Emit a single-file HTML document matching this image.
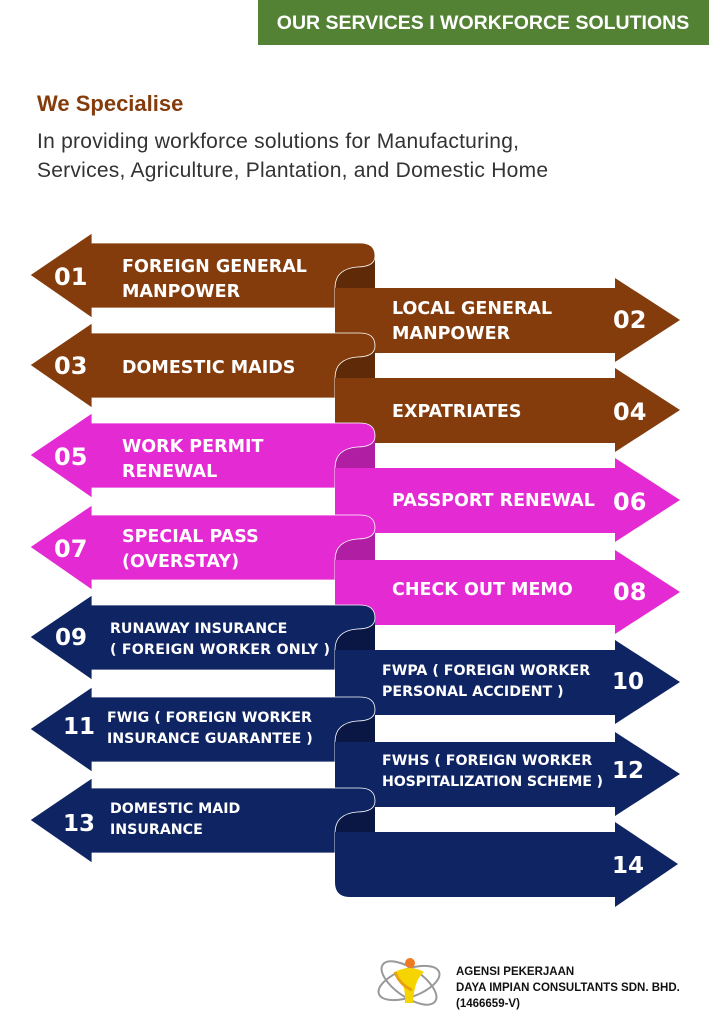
<!DOCTYPE html>
<html><head><meta charset="utf-8"><style>
html,body{margin:0;padding:0;background:#fff;width:709px;height:1024px;overflow:hidden}
svg{display:block}
.t{font-family:"DejaVu Sans","Liberation Sans",sans-serif;font-weight:bold;fill:#fff}
</style></head><body>
<svg width="709" height="1024" viewBox="0 0 709 1024" xmlns="http://www.w3.org/2000/svg">
<rect x="258" y="0" width="451" height="45" fill="#548235"/>
<text x="483" y="29" text-anchor="middle" font-family="Liberation Sans,sans-serif" font-weight="bold" font-size="19.5" fill="#fff">OUR SERVICES  I  WORKFORCE SOLUTIONS</text>
<text x="37" y="111" font-family="Liberation Sans,sans-serif" font-weight="bold" font-size="22" fill="#843c0c">We Specialise</text>
<text x="37" y="148" font-family="Liberation Sans,sans-serif" font-size="21" textLength="482" fill="#333">In providing workforce solutions for Manufacturing,</text>
<text x="37" y="177" font-family="Liberation Sans,sans-serif" font-size="21" textLength="511" fill="#333">Services, Agriculture, Plantation, and Domestic Home</text>

<defs>
<g id="L"><path d="M30,32 L92,-10 L92,0 L360,0 Q375,0 375,13 Q375,24 357,24 Q335,26 335,45 L335,65 L92,65 L92,75 Z"/></g>
</defs>

<g stroke="#fff" stroke-width="0.8">
<rect x="335" y="258" width="40" height="32" fill="#5e2a08" stroke="none"/>
<use href="#L" x="0" y="243" fill="#843c0c"/>
<path d="M335,288 L615,288 L615,278 L680,320 L615,362 L615,353 L335,353 Z" fill="#843c0c" stroke="none"/>
<rect x="335" y="348" width="40" height="32" fill="#5e2a08" stroke="none"/>
<use href="#L" x="0" y="333" fill="#843c0c"/>
<path d="M335,378 L615,378 L615,368 L680,410 L615,452 L615,443 L335,443 Z" fill="#843c0c" stroke="none"/>
<rect x="335" y="438" width="40" height="32" fill="#b01ea3" stroke="none"/>
<use href="#L" x="0" y="423" fill="#e42ad2"/>
<path d="M335,468 L615,468 L615,458 L680,500 L615,542 L615,533 L335,533 Z" fill="#e42ad2" stroke="none"/>
<rect x="335" y="530" width="40" height="32" fill="#b01ea3" stroke="none"/>
<use href="#L" x="0" y="515" fill="#e42ad2"/>
<path d="M335,560 L615,560 L615,550 L680,592 L615,634 L615,625 L335,625 Z" fill="#e42ad2" stroke="none"/>
<rect x="335" y="620" width="40" height="32" fill="#0a1745" stroke="none"/>
<use href="#L" x="0" y="605" fill="#0f2462"/>
<path d="M335,650 L615,650 L615,640 L680,682 L615,724 L615,715 L335,715 Z" fill="#0f2462" stroke="none"/>
<rect x="335" y="712" width="40" height="32" fill="#0a1745" stroke="none"/>
<use href="#L" x="0" y="697" fill="#0f2462"/>
<path d="M335,742 L615,742 L615,732 L680,774 L615,816 L615,807 L335,807 Z" fill="#0f2462" stroke="none"/>
<rect x="335" y="803" width="40" height="32" fill="#0a1745" stroke="none"/>
<use href="#L" x="0" y="788" fill="#0f2462"/>
<path d="M335,832 L615,832 L615,822 L678,864 L615,907 L615,897 L350,897 Q335,897 335,882 Z" fill="#0f2462" stroke="none"/>
</g>

<g class="t" font-size="17.5">
<text x="54" y="285" font-size="24">01</text>
<text x="122" y="272">FOREIGN GENERAL</text><text x="122" y="297">MANPOWER</text>
<text x="392" y="314">LOCAL GENERAL</text><text x="392" y="339">MANPOWER</text>
<text x="613" y="328" font-size="24">02</text>
<text x="54" y="374" font-size="24">03</text>
<text x="122" y="373">DOMESTIC MAIDS</text>
<text x="392" y="417">EXPATRIATES</text>
<text x="613" y="420" font-size="24">04</text>
<text x="54" y="465" font-size="24">05</text>
<text x="122" y="452">WORK PERMIT</text><text x="122" y="477">RENEWAL</text>
<text x="392" y="506">PASSPORT RENEWAL</text>
<text x="613" y="510" font-size="24">06</text>
<text x="54" y="557" font-size="24">07</text>
<text x="122" y="542">SPECIAL PASS</text><text x="122" y="567">(OVERSTAY)</text>
<text x="392" y="595">CHECK OUT MEMO</text>
<text x="613" y="600" font-size="24">08</text>
<g font-size="14.2">
<text x="110" y="633">RUNAWAY INSURANCE</text><text x="110" y="654" textLength="220">( FOREIGN WORKER ONLY )</text>
<text x="382" y="675">FWPA ( FOREIGN WORKER</text><text x="382" y="696">PERSONAL ACCIDENT )</text>
<text x="107" y="722">FWIG ( FOREIGN WORKER</text><text x="107" y="743">INSURANCE GUARANTEE )</text>
<text x="382" y="765">FWHS ( FOREIGN WORKER</text><text x="382" y="786" textLength="221">HOSPITALIZATION SCHEME )</text>
<text x="110" y="813">DOMESTIC MAID</text><text x="110" y="834">INSURANCE</text>
</g>
<g font-size="23">
<text x="55" y="645">09</text>
<text x="612" y="689">10</text>
<text x="63" y="734">11</text>
<text x="612" y="778">12</text>
<text x="63" y="831">13</text>
<text x="612" y="873">14</text>
</g>
</g>

<g fill="none" stroke="#999" stroke-width="2">
<ellipse cx="409" cy="983" rx="32" ry="14" transform="rotate(-20 409 983)"/>
<ellipse cx="409" cy="983" rx="32" ry="14" transform="rotate(35 409 983)"/>
</g>
<circle cx="410" cy="963" r="5" fill="#f07a20"/>
<path d="M395,972 Q410,964 424,972 Q414,980 413,1003 L405,1003 Q406,982 395,972 Z" fill="#f5d400"/>
<path d="M395,972 Q400,985 412,990" fill="none" stroke="#e8a010" stroke-width="3"/>
<text x="456" y="975" font-family="Liberation Sans,sans-serif" font-weight="bold" font-size="11.5" fill="#111">AGENSI PEKERJAAN</text>
<text x="456" y="991" font-family="Liberation Sans,sans-serif" font-weight="bold" font-size="11.5" fill="#111">DAYA IMPIAN CONSULTANTS SDN. BHD.</text>
<text x="456" y="1007" font-family="Liberation Sans,sans-serif" font-weight="bold" font-size="11.5" fill="#111">(1466659-V)</text>
</svg>
</body></html>
